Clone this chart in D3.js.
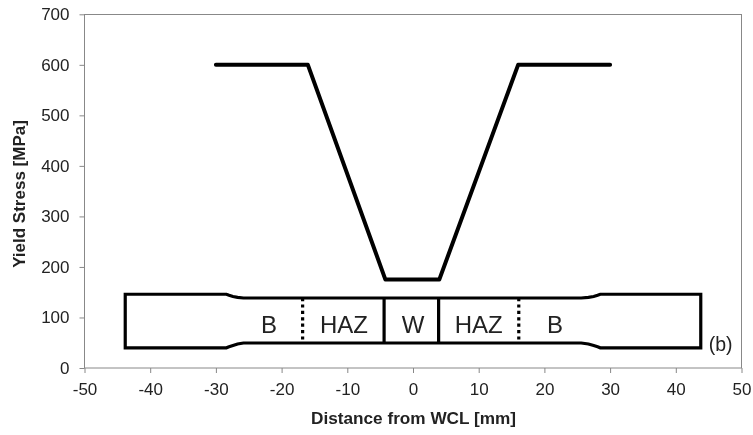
<!DOCTYPE html>
<html><head><meta charset="utf-8">
<script src="https://cdn.jsdelivr.net/npm/d3@7"></script>
<style>html,body{margin:0;padding:0;background:#fff}svg{display:block;filter:blur(0.45px)}text{font-family:"Liberation Sans",Arial,sans-serif;fill:#222}</style>
</head><body><div id="c"></div>
<script>
const xTicks=[-50,-40,-30,-20,-10,0,10,20,30,40,50];
const yTicks=[0,100,200,300,400,500,600,700];
const stressX=[-30,-16,-4.2,4,16,30];
const stressY=[600,600,175,175,600,600];
const outlineTopX=[-43.8,-28.4,-28,-27.4,-26.7,-25.8,25.6,26.7,27.5,28.1,28.5,43.8];
const outlineTopY=[146,146,144,141.5,139.8,138.5,138.5,139.8,141.5,144,146,146];
const outlineBottomY=[40,40,42,44.5,47.5,49.5,49.5,47.5,44.5,42,40,40];
const solidDividers=[-4.4,3.9];
const dottedDividers=[-16.8,16.1];
const zoneLabels=["B","HAZ","W","HAZ","B"];
const zoneX=[-21.9,-10.5,0,10,21.6];
const zoneY=[86,86,86,86,86];

const W=753,H=435;
const x=d3.scaleLinear().domain([-50,50]).range([84.5,741.5]);
const y=d3.scaleLinear().domain([0,700]).range([368,14.3]);
const svg=d3.select("#c").append("svg").attr("width",W).attr("height",H);

svg.append("rect").attr("x",84.5).attr("y",14.5).attr("width",657).attr("height",353.5)
  .attr("fill","none").attr("stroke","#888").attr("stroke-width",1);

const ax=svg.append("g").attr("transform","translate(0,368)")
  .call(d3.axisBottom(x).tickValues(xTicks).tickSize(5).tickPadding(10).tickFormat(String));
const ay=svg.append("g").attr("transform","translate(84.5,0)")
  .call(d3.axisLeft(y).tickValues(yTicks).tickSize(5).tickPadding(10).tickFormat(String));
[ax,ay].forEach(a=>{a.selectAll("path").remove();a.selectAll("line").attr("stroke","#888");
  a.selectAll("text").style("font-size","17px").style("fill","#222").attr("font-family",null);});

const line=d3.line().x(d=>x(d[0])).y(d=>y(d[1]));
const blk="#000";
svg.append("path").attr("d",line(d3.zip(stressX,stressY))).attr("fill","none").attr("stroke",blk)
  .attr("stroke-width",4).attr("stroke-linecap","round").attr("stroke-linejoin","round");

const closed=d3.zip(outlineTopX,outlineTopY).concat(d3.zip(outlineTopX,outlineBottomY).reverse());
svg.append("path").attr("d",line(closed)+"Z").attr("fill","none").attr("stroke",blk)
  .attr("stroke-width",3.2).attr("stroke-linejoin","miter");

svg.selectAll(".solid").data(solidDividers).join("line").attr("class","solid")
  .attr("x1",d=>x(d)).attr("x2",d=>x(d)).attr("y1",y(138.5)).attr("y2",y(49.5))
  .attr("stroke",blk).attr("stroke-width",3.2);
svg.selectAll(".dot").data(dottedDividers).join("line").attr("class","dot")
  .attr("x1",d=>x(d)).attr("x2",d=>x(d)).attr("y1",y(138.5)).attr("y2",y(49.5))
  .attr("stroke",blk).attr("stroke-width",3.2).attr("stroke-dasharray","3.2 3.2");

svg.selectAll(".zone").data(zoneLabels).join("text").attr("class","zone")
  .attr("x",(d,i)=>x(zoneX[i])).attr("y",(d,i)=>y(zoneY[i])).attr("dy","0.36em")
  .attr("text-anchor","middle").style("font-size","24px").text(d=>d);

svg.append("text").attr("x",x(45)).attr("y",y(33))
  .style("font-size","19.5px").text("(b)");

svg.append("text").attr("x",413.5).attr("y",424).attr("text-anchor","middle")
  .style("font-size","17.2px").style("font-weight","bold").text("Distance from WCL [mm]");
svg.append("text").attr("transform","translate(24.5,194) rotate(-90)").attr("text-anchor","middle")
  .style("font-size","17px").style("font-weight","bold").text("Yield Stress [MPa]");
</script></body></html>
